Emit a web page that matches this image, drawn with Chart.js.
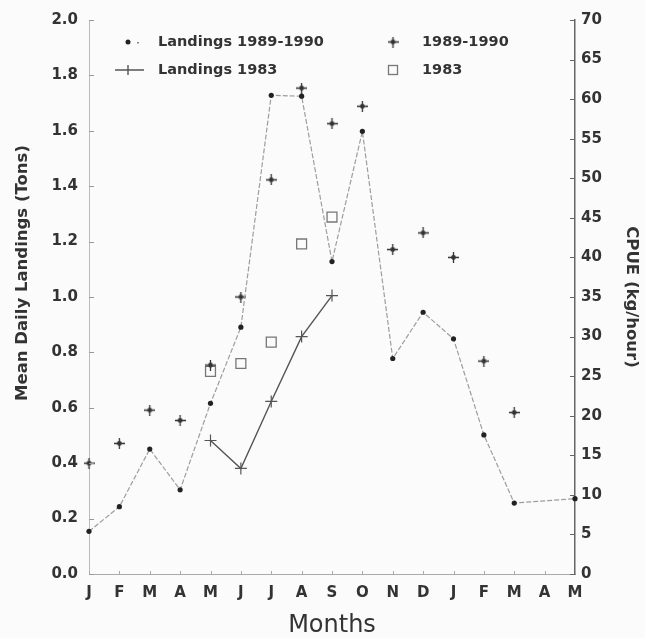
<!DOCTYPE html>
<html>
<head>
<meta charset="utf-8">
<script src="https://cdn.jsdelivr.net/npm/chart.js@4.4.1/dist/chart.umd.min.js"></script>
<style>
  html, body { margin: 0; padding: 0; background: #fbfbfb; }
  #wrap { width: 645px; height: 638px; }
</style>
</head>
<body>
<div id="wrap"><canvas id="landings_plot" width="645" height="638"></canvas></div>
<script>
'use strict';

// months from January 1989 to May 1990
var months = ['J', 'F', 'M', 'A', 'M', 'J', 'J', 'A', 'S', 'O', 'N', 'D', 'J', 'F', 'M', 'A', 'M'];

// mean daily landings (tons)
var landings8990 = [0.154, 0.243, 0.451, 0.304, 0.616, 0.891, 1.728, 1.725, 1.128, 1.598, 0.778, 0.945, 0.849, 0.502, 0.256, null, 0.272];
var landings1983 = [null, null, null, null, 0.482, 0.381, 0.623, 0.857, 1.005, null, null, null, null, null, null, null, null];

// CPUE (kg/hour)
var cpue8990 = [14.0, 16.5, 20.7, 19.4, 26.4, 35.0, 49.8, 61.4, 56.9, 59.1, 41.0, 43.1, 40.0, 26.9, 20.4, null, null];
var cpue1983 = [null, null, null, null, 25.6, 26.6, 29.3, 41.7, 45.1, null, null, null, null, null, null, null, null];

var leftTicks = { min: 0, max: 2, step: 0.2 };
var rightTicks = { min: 0, max: 70, step: 5 };

var INK = '#333';

function makeStar(size, color) {
    var c = document.createElement('canvas');
    c.width = size;
    c.height = size;
    var g = c.getContext('2d');
    var m = size / 2;
    g.strokeStyle = color;
    g.lineWidth = 1.3;
    g.beginPath();
    g.moveTo(0, m); g.lineTo(size, m);
    g.moveTo(m, 0); g.lineTo(m, size);
    g.stroke();
    g.fillStyle = color;
    g.beginPath();
    g.arc(m, m, 2.4, 0, Math.PI * 2);
    g.fill();
    return c;
}

var star = makeStar(11, '#333');

// inward tick marks, 2x2 legend and the left axis title
var decorations = {
    id: 'decorations',
    afterDatasetsDraw: function (chart) {
        var ctx = chart.ctx;
        var yl = chart.scales.y, yr = chart.scales.y1, xs = chart.scales.x;
        var area = chart.chartArea;
        ctx.save();

        ctx.lineWidth = 1;
        ctx.strokeStyle = '#999';
        ctx.beginPath();
        yl.ticks.forEach(function (t) {
            var py = Math.round(yl.getPixelForValue(t.value)) + 0.5;
            ctx.moveTo(yl.right, py);
            ctx.lineTo(yl.right + 5, py);
        });
        ctx.stroke();

        ctx.strokeStyle = '#666';
        ctx.beginPath();
        yr.ticks.forEach(function (t) {
            var py = Math.round(yr.getPixelForValue(t.value)) + 0.5;
            ctx.moveTo(yr.left - 5, py);
            ctx.lineTo(yr.left, py);
        });
        ctx.stroke();

        ctx.strokeStyle = '#aaa';
        ctx.beginPath();
        months.forEach(function (m, i) {
            var px = Math.round(xs.getPixelForValue(i)) + 0.5;
            ctx.moveTo(px, xs.top);
            ctx.lineTo(px, xs.top - 3);
        });
        ctx.stroke();

        // legend
        var ds = chart.data.datasets;
        var c1 = area.left + 39, t1 = area.left + 69;
        var c2 = area.left + 304, t2 = area.left + 333;
        var r1 = area.top + 22, r2 = area.top + 50;

        ctx.fillStyle = '#222';
        ctx.beginPath();
        ctx.arc(c1, r1, 2.5, 0, Math.PI * 2);
        ctx.fill();
        ctx.fillStyle = '#888';
        ctx.fillRect(c1 + 9, r1, 2, 1.5);

        ctx.strokeStyle = '#555';
        ctx.lineWidth = 1.4;
        ctx.beginPath();
        ctx.moveTo(c1 - 13, r2); ctx.lineTo(c1 + 16, r2);
        ctx.moveTo(c1, r2 - 5); ctx.lineTo(c1, r2 + 5);
        ctx.stroke();

        ctx.drawImage(star, c2 - 5.5, r1 - 5.5);

        ctx.strokeStyle = '#777';
        ctx.lineWidth = 1.3;
        ctx.strokeRect(c2 - 4.5, r2 - 4.5, 9, 9);

        ctx.fillStyle = INK;
        ctx.font = 'bold 14.5px "DejaVu Sans"';
        ctx.textBaseline = 'middle';
        ctx.textAlign = 'left';
        ctx.fillText(ds[0].label, t1, r1);
        ctx.fillText(ds[1].label, t1, r2);
        ctx.fillText(ds[2].label, t2, r1);
        ctx.fillText(ds[3].label, t2, r2);

        // left axis title
        ctx.translate(23, 273);
        ctx.rotate(-Math.PI / 2);
        ctx.textAlign = 'center';
        ctx.font = 'bold 16.5px "DejaVu Sans"';
        ctx.fillText('Mean Daily Landings (Tons)', 0, 0);

        ctx.restore();
    }
};

Chart.defaults.font.family = '"DejaVu Sans"';
Chart.defaults.color = INK;

var ctx = document.getElementById('landings_plot').getContext('2d');
new Chart(ctx, {
    type: 'line',
    data: {
        labels: months,
        datasets: [{
            label: 'Landings 1989-1990',
            data: landings8990,
            yAxisID: 'y',
            borderColor: '#9d9d9d',
            borderWidth: 1.2,
            borderDash: [5, 2],
            spanGaps: true,
            pointStyle: 'circle',
            pointRadius: 2.6,
            pointBackgroundColor: '#222',
            pointBorderWidth: 0
        }, {
            label: 'Landings 1983',
            data: landings1983,
            yAxisID: 'y',
            borderColor: '#555',
            borderWidth: 1.4,
            pointStyle: 'cross',
            pointRadius: 6,
            pointBorderColor: '#555',
            pointBorderWidth: 1.2
        }, {
            label: '1989-1990',
            data: cpue8990,
            yAxisID: 'y1',
            showLine: false,
            pointStyle: star
        }, {
            label: '1983',
            data: cpue1983,
            yAxisID: 'y1',
            showLine: false,
            pointStyle: 'rect',
            pointRadius: 7,
            pointBorderColor: '#777',
            pointBackgroundColor: 'rgba(0,0,0,0)',
            pointBorderWidth: 1.3
        }]
    },
    options: {
        responsive: false,
        animation: false,
        layout: { padding: { top: 16, left: 0, right: 0, bottom: 0 } },
        plugins: {
            legend: { display: false },
            tooltip: { enabled: false }
        },
        scales: {
            x: {
                offset: false,
                grid: { display: false, drawTicks: false },
                border: { display: true, color: '#aaa', dash: [3, 3] },
                ticks: {
                    padding: 10,
                    maxRotation: 0,
                    autoSkip: false,
                    font: { size: 15, weight: 'bold' }
                },
                title: {
                    display: true,
                    text: 'Months',
                    font: { size: 24, weight: 'normal', lineHeight: 1 },
                    padding: { top: 0, bottom: 0 }
                },
                afterFit: function (scale) { scale.height = 64; }
            },
            y: {
                position: 'left',
                min: leftTicks.min,
                max: leftTicks.max,
                grid: { display: false, drawTicks: false },
                border: { display: true, color: '#bbb' },
                ticks: {
                    stepSize: leftTicks.step,
                    padding: 11,
                    font: { size: 15, weight: 'bold' },
                    callback: function (v) { return v.toFixed(1); }
                },
                afterFit: function (scale) { scale.width = 89; }
            },
            y1: {
                position: 'right',
                min: rightTicks.min,
                max: rightTicks.max,
                grid: { display: false, drawTicks: false },
                border: { display: true, color: '#666', width: 1.5 },
                ticks: {
                    stepSize: rightTicks.step,
                    padding: 6,
                    font: { size: 15, weight: 'bold' }
                },
                title: {
                    display: true,
                    text: 'CPUE (kg/hour)',
                    font: { size: 16.5, weight: 'bold' },
                    padding: { top: 4, bottom: 0 }
                },
                afterFit: function (scale) { scale.width = 70; }
            }
        }
    },
    plugins: [decorations]
});
</script>
</body>
</html>
